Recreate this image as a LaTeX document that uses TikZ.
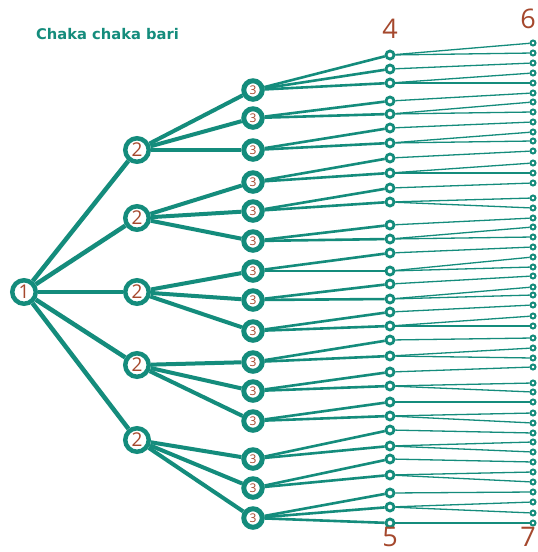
\documentclass[tikz,border=0pt]{standalone}
\usepackage{fontspec}
\setmainfont{Open Sans}
\newfontfamily\titlefont{DejaVu Sans}
\definecolor{teal1}{RGB}{20,140,124}
\definecolor{numc}{RGB}{165,72,45}
\tikzset{
  lvA/.style={circle, draw=teal1, line width=4.5pt, fill=white, minimum size=23.5pt, inner sep=0pt, text=numc, font=\fontsize{19}{19}\selectfont},
  lvC/.style={circle, draw=teal1, line width=5pt, fill=white, minimum size=18.5pt, inner sep=0pt, text=numc, font=\fontsize{12}{12}\selectfont},
  lvD/.style={circle, draw=teal1, line width=2.8pt, fill=white, minimum size=8pt, inner sep=0pt},
  lvE/.style={circle, draw=teal1, line width=2pt, fill=white, minimum size=5pt, inner sep=0pt},
  e1/.style={draw=teal1, line width=4.5pt},
  e2/.style={draw=teal1, line width=4pt},
  e3/.style={draw=teal1, line width=2.6pt},
  e4/.style={draw=teal1, line width=1.3pt},
  biglab/.style={text=numc, font=\fontsize{27}{27}\selectfont, inner sep=0pt},
}
\begin{document}
\begin{tikzpicture}[x=1pt,y=-1pt]
\useasboundingbox (0,0) rectangle (538,552);
\fill[white] (0,0) rectangle (538,552);
\node[anchor=west, text=teal1, inner sep=0pt, font=\titlefont\bfseries\fontsize{14.7}{15}\selectfont] (title) at (36,34) {Chaka chaka bari};
\node[lvA] (n1) at (24,292) {1};
\foreach \y [count=\i] in {150,218,292,365,440} {
  \node[lvA] (a\i) at (137,\y) {2};
  \draw[e1] (n1) -- (a\i);
}
\foreach \y/\p [count=\i] in {90/1,118/1,150/1,182/2,211/2,241/2,271/3,300/3,331/3,362/4,391/4,421/4,459/5,488/5,518/5} {
  \node[lvC] (b\i) at (253,\y) {3};
  \draw[e2] (a\p) -- (b\i);
}
\foreach \y/\p [count=\i] in {55/1,69/1,83/1,101/2,114/2,128/3,143/3,158/4,173/4,188/5,202/5,225/6,239/6,253/7,271/7,284/8,299/8,312/9,326/9,340/10,356/10,372/11,386/11,402/12,416/12,430/13,446/13,459/14,475/14,493/15,507/15,523/15} {
  \node[lvD] (c\i) at (390,\y) {};
  \draw[e3] (b\p) -- (c\i);
}
\foreach \y/\p [count=\i] in {43/1,53/1,63/2,73/3,83/3,93/4,102/5,112/5,122/6,132/7,141/7,151/8,163/9,173/9,183/10,198/11,208/11,218/12,227/13,237/13,247/14,257/15,267/15,276/16,287/17,295/17,305/18,316/19,326/19,338/20,348/21,358/21,367/22,383/23,392/23,402/24,413/25,423/25,433/26,442/27,452/27,462/28,472/29,482/29,492/30,502/31,513/31,523/32} {
  \node[lvE] (d\i) at (533,\y) {};
  \draw[e4] (c\p) -- (d\i);
}
\node[biglab] (l4) at (390,29) {4};
\node[biglab] (l5) at (390,537) {5};
\node[biglab] (l6) at (528,19) {6};
\node[biglab] (l7) at (528,537) {7};
\end{tikzpicture}
\end{document}
